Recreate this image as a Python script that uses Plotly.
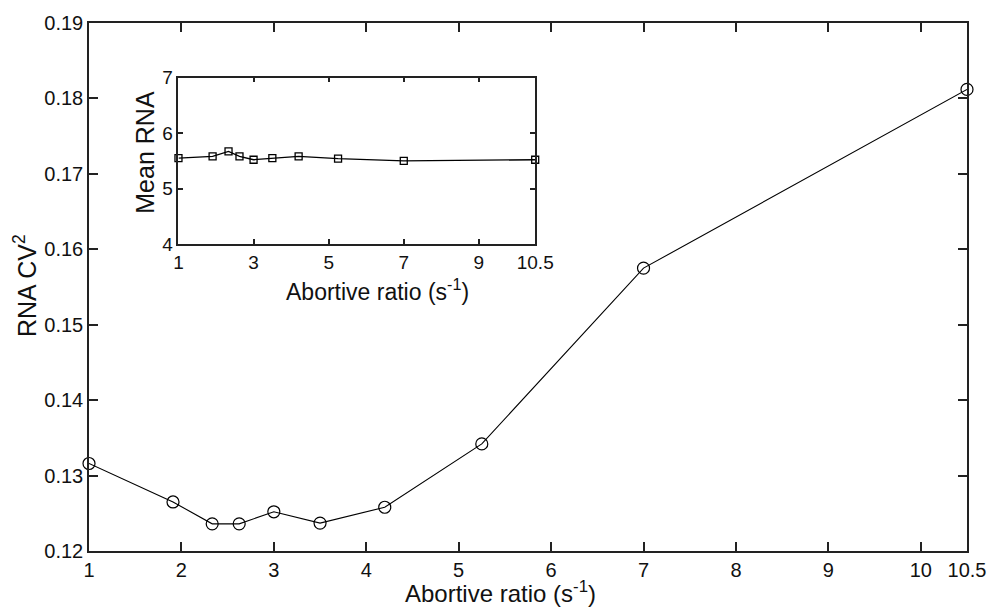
import plotly.graph_objects as go

# Data
abortive_ratio = [1.0, 1.909, 2.333, 2.625, 3.0, 3.5, 4.2, 5.25, 7.0, 10.5]
rna_cv2 = [0.1316, 0.1265, 0.1236, 0.1236, 0.1252, 0.1237, 0.1258, 0.1342, 0.1575, 0.1812]
mean_rna = [5.55, 5.58, 5.67, 5.58, 5.52, 5.55, 5.58, 5.54, 5.50, 5.52]

main_xticks = [1, 2, 3, 4, 5, 6, 7, 8, 9, 10, 10.5]
main_yticks = [0.12, 0.13, 0.14, 0.15, 0.16, 0.17, 0.18, 0.19]
inset_xticks = [1, 3, 5, 7, 9, 10.5]
inset_yticks = [4, 5, 6, 7]

FONT = "Liberation Sans, Arial, sans-serif"
TXT = "#111111"

fig = go.Figure()
fig.add_trace(go.Scatter(
    x=abortive_ratio, y=rna_cv2, mode="lines+markers",
    line=dict(color="black", width=1.1),
    marker=dict(symbol="circle-open", size=12, color="black", line=dict(width=1.2)),
    cliponaxis=False, xaxis="x", yaxis="y", showlegend=False))
fig.add_trace(go.Scatter(
    x=abortive_ratio, y=mean_rna, mode="lines+markers",
    line=dict(color="black", width=1.3),
    marker=dict(symbol="square-open", size=7, color="black", line=dict(width=1.3)),
    cliponaxis=False, xaxis="x2", yaxis="y2", showlegend=False))

axis_common = dict(showline=True, linecolor="#222", linewidth=1.5, mirror="ticks",
                   ticks="inside", tickcolor="#222", tickwidth=1.5,
                   showgrid=False, zeroline=False)

fig.update_layout(
    width=998, height=607,
    margin=dict(l=89, r=23, t=20, b=56),
    paper_bgcolor="white", plot_bgcolor="white",
    font=dict(family=FONT, color=TXT),
    xaxis=dict(range=[1, 10.5], tickvals=main_xticks, ticktext=[str(v) for v in main_xticks],
               ticklen=9, tickfont=dict(size=20), domain=[0, 1], **axis_common),
    yaxis=dict(range=[0.12, 0.19], tickvals=main_yticks, tickformat=".2f",
               ticklen=9, tickfont=dict(size=20), domain=[0, 1], **axis_common),
    xaxis2=dict(range=[1, 10.5], tickvals=inset_xticks, ticktext=[str(v) for v in inset_xticks],
                ticklen=5, tickfont=dict(size=19), domain=[0.1019, 0.5082], anchor="y2",
                **axis_common),
    yaxis2=dict(range=[4, 7], tickvals=inset_yticks, ticklen=5, tickfont=dict(size=19),
                domain=[0.5814, 0.8964], anchor="x2", **axis_common),
    annotations=[
        dict(text="Abortive ratio (s<sup>-1</sup>)", x=0.4684, y=-0.0772, xref="paper", yref="paper",
             showarrow=False, xanchor="center", yanchor="middle", font=dict(size=24)),
        dict(text="RNA CV<sup>2</sup>", x=-0.0734, y=0.5028, xref="paper", yref="paper",
             showarrow=False, xanchor="center", yanchor="middle", textangle=-90, font=dict(size=25)),
        dict(text="Mean RNA", x=0.0643, y=0.7552, xref="paper", yref="paper",
             showarrow=False, xanchor="center", yanchor="middle", textangle=-90, font=dict(size=25)),
        dict(text="Abortive ratio (s<sup>-1</sup>)", x=0.3284, y=0.4934, xref="paper", yref="paper",
             showarrow=False, xanchor="center", yanchor="middle", font=dict(size=23)),
    ],
)

fig.write_html("out.html")
